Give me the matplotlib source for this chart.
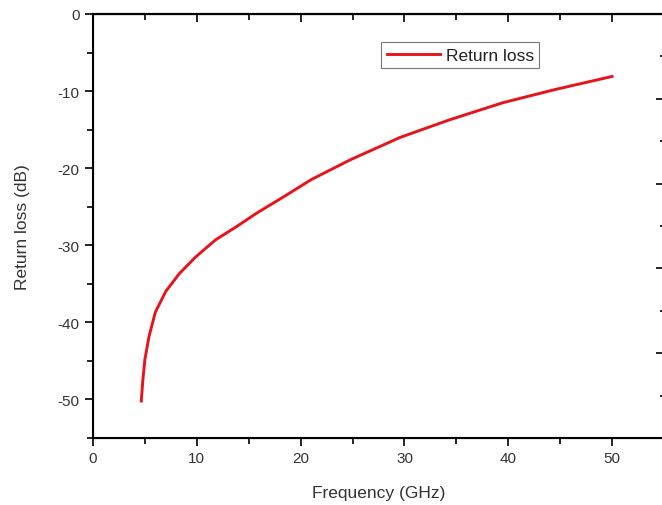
import matplotlib
matplotlib.use("Agg")
import matplotlib.pyplot as plt
from matplotlib.ticker import MultipleLocator

plt.rcParams['font.family'] = ['Liberation Sans', 'DejaVu Sans']
plt.rcParams['axes.unicode_minus'] = False

# Return loss curve
freq = [4.65, 4.8, 5.0, 5.4, 6.0, 7.0, 8.3, 9.9, 11.8, 13.8, 15.8, 18.5,
        21.0, 24.8, 29.6, 34.4, 39.5, 44.5, 50.0]
rl = [-50.2, -47.5, -44.8, -41.8, -38.7, -36.0, -33.7, -31.5, -29.3, -27.6, -25.8, -23.6,
      -21.5, -18.9, -16.0, -13.7, -11.5, -9.8, -8.1]

txt = '#333333'

fig = plt.figure(figsize=(6.62, 5.06), dpi=100)
ax = fig.add_axes([93/662, 1 - 439/506, 571/662, 424/506])

ax.plot(freq, rl, color='#e8141b', lw=2.1, label='Return loss')

ax.set_xlim(0, 55)
ax.set_ylim(-55, 0)
ax.xaxis.set_major_locator(MultipleLocator(10))
ax.xaxis.set_minor_locator(MultipleLocator(5))
ax.yaxis.set_major_locator(MultipleLocator(10))
ax.yaxis.set_minor_locator(MultipleLocator(5))

ax.tick_params(which='both', direction='out', top=False, right=False,
               colors='black', labelcolor=txt, labelsize=11, width=1.2)
ax.tick_params(which='major', length=6)
ax.tick_params(which='minor', length=4)

# top ticks point inward
sec = ax.secondary_xaxis('top')
sec.xaxis.set_major_locator(MultipleLocator(10))
sec.xaxis.set_minor_locator(MultipleLocator(5))
sec.tick_params(which='both', direction='in', labeltop=False, width=1.2)
sec.tick_params(which='major', length=6)
sec.tick_params(which='minor', length=4)
sec.spines['top'].set_linewidth(1.5)

# right axis with its own inward ticks, no labels
tw = ax.twinx()
tw.set_ylim(0, 5)
tw.yaxis.set_major_locator(MultipleLocator(1))
tw.yaxis.set_minor_locator(MultipleLocator(0.5))
tw.tick_params(which='both', direction='in', labelright=False, width=1.2)
tw.tick_params(which='major', length=6)
tw.tick_params(which='minor', length=3)

for s in ax.spines.values():
    s.set_linewidth(1.5)

ax.set_xlabel('Frequency (GHz)', fontsize=12.5, color=txt, labelpad=14)
ax.set_ylabel('Return loss (dB)', fontsize=12.5, color=txt, labelpad=20)

leg = ax.legend(loc='upper left', bbox_to_anchor=(0.505, 0.933), fontsize=12.5,
                frameon=True, fancybox=False, borderpad=0.3, handlelength=3.1,
                handletextpad=0.3, borderaxespad=0)
leg.get_frame().set_edgecolor('#555555')
leg.get_frame().set_linewidth(0.8)
for t in leg.get_texts():
    t.set_color('#222222')

fig.savefig('out.png', dpi=100)
